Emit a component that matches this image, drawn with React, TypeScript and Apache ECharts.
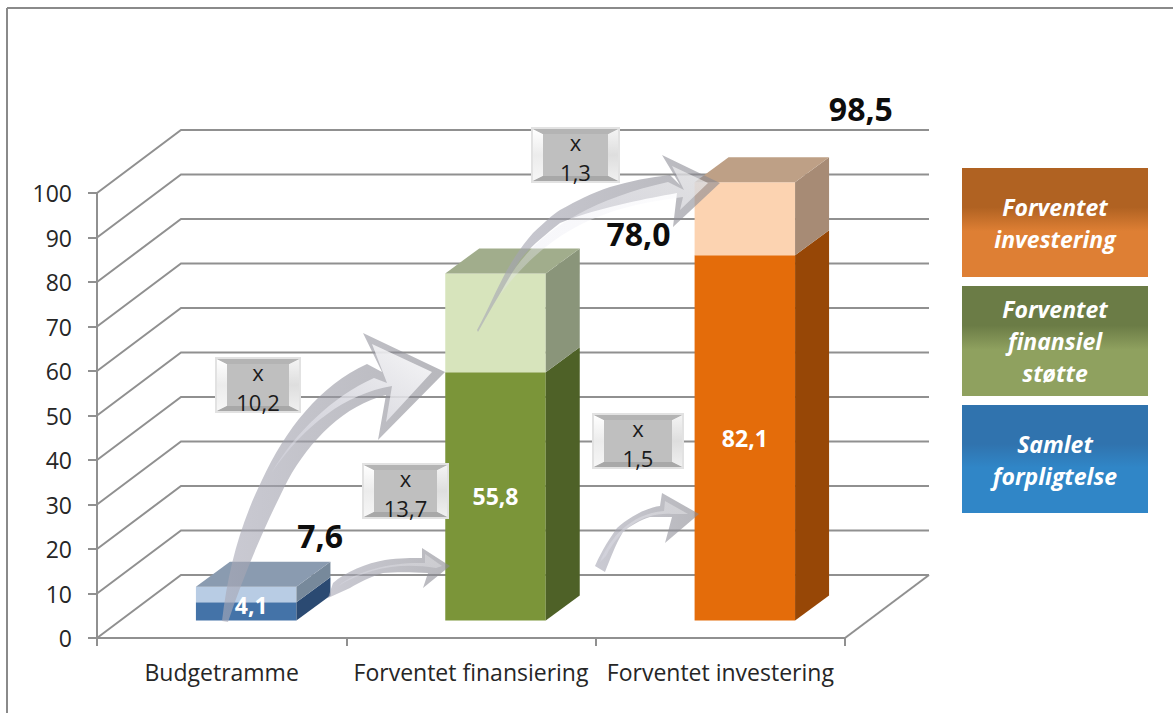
import React, { useEffect, useRef } from "react";
import * as echarts from "echarts";

// Category axis and the two stacked levels of each column
const categories = ["Budgetramme", "Forventet finansiering", "Forventet investering"];
const lowerValues = [4.1, 55.8, 82.1];
const totalValues = [7.6, 78.0, 98.5];
const yTicks = [0, 10, 20, 30, 40, 50, 60, 70, 80, 90, 100];

// Multipliers shown between the columns
const multiplierLabels = ["10,2", "13,7", "1,3", "1,5"];

// Legend panels
const legendLabels = ["Forventet\ninvestering", "Forventet\nfinansiel\nstøtte", "Samlet\nforpligtelse"];

const FONT = '"Open Sans", sans-serif';
const GRID_COLOR = "#909090";
const WALL = { dx: 84, dy: -63 };
const BAR = { shiftX: 24.5, shiftY: -17.5, depthX: 34, depthY: -25, ratio: 0.403 };

const palette = [
  { front: "#4473a8", side: "#2b4a72", upFront: "#b8cce4", upSide: "#77899b", top: "#8a9bb0" },
  { front: "#7b9539", side: "#4e6127", upFront: "#d7e4bc", upSide: "#8a957a", top: "#a1ad8c" },
  { front: "#e46c0a", side: "#974706", upFront: "#fcd3b1", upSide: "#a78b75", top: "#bea086" },
];

// Hand-placed labels are offset from the column they describe
const innerLabelShift = [
  [5, -6],
  [0, 0],
  [0, 0],
];
const totalLabelShift = [
  [74, -51],
  [143, -40],
  [116, -74],
];

const fmt = (v: number) => v.toFixed(1).replace(".", ",");

// Curved callout arrows: outer silhouette and the lighter bevelled interior
const arrowPaths: Record<string, [string, string, number]> = {
  a: [
    "M222,621 C228,570 240,525 262,480 C285,430 320,385 367,364 L382,372 L363,333 L445,372 L378,440 L386,395 C345,405 310,440 288,480 C270,515 245,570 228,622 Z",
    "M272,472 C296,432 332,397 374,378 L387,383 L372,344 L432,372 L386,422 L392,386 C345,394 305,425 272,472 Z",
    0.9,
  ],
  b: [
    "M328,598 L333,583 C345,572 367,563 385,560 C400,558 412,558 422,558 L422,548 L450,566 L423,588 L428,573 C410,572 395,572 383,573 C370,577 360,582 350,588 Z",
    "M338,586 C358,570 392,562 425,563 L425,554 L442,566 L436,568 C400,562 368,568 338,586 Z",
    0.3,
  ],
  c: [
    "M595,566 C603,548 610,538 617,528 C628,518 645,508 660,506 L662,493 L699,514 L665,543 L672,517 C665,517 657,517 650,517 C640,520 630,526 623,532 C615,545 610,560 605,572 Z",
    "M600,562 C610,538 630,514 664,511 L665,501 L688,514 L672,514 C645,512 622,526 606,556 Z",
    0.35,
  ],
  d: [
    "M477,330 C488,310 497,288 507,270 C515,256 524,243 533,233 C545,222 552,215 560,210 C578,200 592,193 610,187 C630,181 650,177 670,175 L680,185 L662,155 L720,183 L673,227 L677,193 C660,196 645,199 627,203 C605,208 582,214 560,223 C545,235 530,247 520,260 C505,285 490,310 478,332 Z",
    "M500,295 C520,250 565,205 668,182 L684,190 L672,166 L708,183 L680,210 L683,197 C620,205 555,220 500,295 Z",
    0.6,
  ],
};
Object.entries(arrowPaths).forEach(([key, [outer, inner]]) => {
  echarts.graphic.registerShape("arrowOuter" + key, echarts.graphic.extendPath(outer, {}) as any);
  echarts.graphic.registerShape("arrowInner" + key, echarts.graphic.extendPath(inner, {}) as any);
});

const arrowGraphics = () =>
  Object.entries(arrowPaths).flatMap(([key, [, , glow]]) => [
    {
      type: "arrowOuter" + key,
      x: 0,
      y: 0,
      z: 20,
      silent: true,
      style: {
        fill: new echarts.graphic.LinearGradient(0, 0, 1, 0, [
          { offset: 0, color: "rgba(170,170,184,0.62)" },
          { offset: 1, color: "rgba(136,136,144,0.6)" },
        ]),
      },
    },
    {
      type: "arrowInner" + key,
      x: 0,
      y: 0,
      z: 21,
      silent: true,
      style: {
        fill: new echarts.graphic.LinearGradient(0, 1, 1, 0, [
          { offset: 0, color: "rgba(226,226,238,0.3)" },
          { offset: 1, color: `rgba(255,255,255,${glow})` },
        ]),
      },
    },
  ]);

// Bevelled grey plate holding a multiplier
const plate = (x: number, y: number, w: number, h: number, value: string) => ({
  type: "group",
  x,
  y,
  z: 30,
  silent: true,
  children: [
    { type: "rect", z: 30, shape: { x: 0, y: 0, width: w, height: h }, style: { fill: "#e2e2e2" } },
    { type: "rect", z: 31, shape: { x: 2, y: 2, width: w - 4, height: h - 4 }, style: { fill: "#bfbfbf" } },
    {
      type: "polygon",
      z: 32,
      shape: { points: [[2, 2], [12, 7], [12, h - 7], [2, h - 2]] },
      style: {
        fill: new echarts.graphic.LinearGradient(0, 0, 0, 1, [
          { offset: 0, color: "#ffffff" },
          { offset: 0.5, color: "#ececec" },
          { offset: 1, color: "#f6f6f6" },
        ]),
      },
    },
    {
      type: "polygon",
      z: 32,
      shape: { points: [[w - 2, 2], [w - 12, 7], [w - 12, h - 7], [w - 2, h - 2]] },
      style: {
        fill: new echarts.graphic.LinearGradient(0, 0, 0, 1, [
          { offset: 0, color: "#f4f4f4" },
          { offset: 0.5, color: "#dedede" },
          { offset: 1, color: "#f0f0f0" },
        ]),
      },
    },
    { type: "polygon", z: 32, shape: { points: [[2, 2], [w - 2, 2], [w - 12, 7], [12, 7]] }, style: { fill: "#b4b4b4" } },
    { type: "polygon", z: 32, shape: { points: [[2, h - 2], [w - 2, h - 2], [w - 12, h - 7], [12, h - 7]] }, style: { fill: "#a8a8a8" } },
    { type: "text", z: 33, x: w / 2, y: 15, style: { text: "x", font: `22px ${FONT}`, fill: "#1a1a1a", textAlign: "center", textVerticalAlign: "middle" } },
    { type: "text", z: 33, x: w / 2, y: 45, style: { text: value, font: `22px ${FONT}`, fill: "#1a1a1a", textAlign: "center", textVerticalAlign: "middle" } },
  ],
});

// Gradient panel with italic caption
const panel = (y: number, h: number, text: string, stops: string[], textY: number) => ({
  type: "group",
  x: 962,
  y,
  z: 30,
  silent: true,
  children: [
    {
      type: "rect",
      z: 30,
      shape: { x: 0, y: 0, width: 186, height: h },
      style: {
        fill: new echarts.graphic.LinearGradient(0, 0, 0, 1, [
          { offset: 0, color: stops[0] },
          { offset: 0.36, color: stops[0] },
          { offset: 0.58, color: stops[1] },
          { offset: 1, color: stops[1] },
        ]),
      },
    },
    {
      type: "text",
      z: 31,
      x: 93,
      y: textY,
      style: {
        text,
        font: `italic bold 23px ${FONT}`,
        lineHeight: 32,
        fill: "#ffffff",
        textAlign: "center",
        textVerticalAlign: "middle",
      },
    },
  ],
});

const option: any = {
  animation: false,
  backgroundColor: "#ffffff",
  grid: { left: 97, right: 328, top: 193, bottom: 75 },
  xAxis: {
    type: "category",
    data: categories,
    axisLine: { lineStyle: { color: GRID_COLOR, width: 2 } },
    axisTick: { show: true, length: 8, lineStyle: { color: GRID_COLOR, width: 2 } },
    axisLabel: { color: "#262626", fontFamily: FONT, fontSize: 23, margin: 22, interval: 0 },
    splitLine: { show: false },
  },
  yAxis: {
    type: "value",
    min: 0,
    max: 100,
    interval: 10,
    axisLine: { show: true, lineStyle: { color: GRID_COLOR, width: 2 } },
    axisTick: { show: true, length: 9, lineStyle: { color: GRID_COLOR, width: 2 } },
    axisLabel: { color: "#262626", fontFamily: FONT, fontSize: 23, margin: 25 },
    splitLine: { show: false },
  },
  graphic: [
    // Outer frame along the left and top edges
    { type: "line", z: 1, silent: true, shape: { x1: 7, y1: 8, x2: 7, y2: 713 }, style: { stroke: "#8a8a8a", lineWidth: 2 } },
    { type: "line", z: 1, silent: true, shape: { x1: 7, y1: 8, x2: 1173, y2: 8 }, style: { stroke: "#8a8a8a", lineWidth: 2 } },
    ...arrowGraphics(),
    plate(215, 357, 86, 56, multiplierLabels[0]),
    plate(362, 463, 87, 56, multiplierLabels[1]),
    plate(531, 127, 89, 56, multiplierLabels[2]),
    plate(592, 413, 92, 56, multiplierLabels[3]),
    panel(168, 109, legendLabels[0], ["#b06222", "#de7f34"], 55),
    panel(286, 110, legendLabels[1], ["#6b7c46", "#8fa15f"], 55),
    panel(405, 108, legendLabels[2], ["#3073ae", "#3086c7"], 55),
  ],
  series: [
    {
      // Side walls and back wall gridlines
      type: "custom",
      z: 1,
      silent: true,
      data: yTicks.map((v) => [0, v]),
      renderItem: (params: any, api: any) => {
        const cs = params.coordSys;
        const y = api.coord([0, api.value(1)])[1];
        const stroke = { stroke: GRID_COLOR, lineWidth: 2, fill: "none" };
        const children: any[] = [
          {
            type: "polyline",
            shape: {
              points: [
                [cs.x, y],
                [cs.x + WALL.dx, y + WALL.dy],
                [cs.x + cs.width + WALL.dx, y + WALL.dy],
              ],
            },
            style: stroke,
          },
        ];
        if (api.value(1) === 0) {
          children.push({
            type: "line",
            shape: { x1: cs.x + cs.width, y1: y, x2: cs.x + cs.width + WALL.dx, y2: y + WALL.dy },
            style: stroke,
          });
        }
        return { type: "group", children };
      },
    },
    {
      // Columns: a solid lower level and a pale upper level, each with side and top faces
      type: "custom",
      z: 5,
      silent: true,
      data: categories.map((_, i) => [i, lowerValues[i], totalValues[i]]),
      renderItem: (_params: any, api: any) => {
        const i = api.value(0);
        const colors = palette[i];
        const [cx, y0] = api.coord([i, 0]);
        const width = api.size([1, 0])[0] * BAR.ratio;
        const left = cx + BAR.shiftX - width / 2;
        const right = left + width;
        const base = y0 + BAR.shiftY;
        const lift = (v: number) => api.coord([i, v])[1] + BAR.shiftY;
        const yLow = lift(api.value(1));
        const yTop = lift(api.value(2));
        const { depthX: dx, depthY: dy } = BAR;
        const poly = (points: number[][], fill: string) => ({ type: "polygon", shape: { points }, style: { fill } });
        return {
          type: "group",
          children: [
            poly([[left, base], [right, base], [right, yLow], [left, yLow]], colors.front),
            poly([[right, base], [right + dx, base + dy], [right + dx, yLow + dy], [right, yLow]], colors.side),
            poly([[left, yLow], [right, yLow], [right, yTop], [left, yTop]], colors.upFront),
            poly([[right, yLow], [right + dx, yLow + dy], [right + dx, yTop + dy], [right, yTop]], colors.upSide),
            poly([[left, yTop], [right, yTop], [right + dx, yTop + dy], [left + dx, yTop + dy]], colors.top),
          ],
        };
      },
    },
    {
      // Value labels: level value on the column, total value beside it
      type: "custom",
      z: 40,
      silent: true,
      data: categories.map((_, i) => [i, lowerValues[i], totalValues[i]]),
      renderItem: (_params: any, api: any) => {
        const i = api.value(0);
        const [cx, y0] = api.coord([i, 0]);
        const lift = (v: number) => api.coord([i, v])[1] + BAR.shiftY;
        const base = y0 + BAR.shiftY;
        const low = api.value(1);
        const total = api.value(2);
        return {
          type: "group",
          children: [
            {
              type: "text",
              x: cx + BAR.shiftX + innerLabelShift[i][0],
              y: (base + lift(low)) / 2 + innerLabelShift[i][1],
              style: {
                text: fmt(low),
                font: `bold 23px ${FONT}`,
                fill: "#ffffff",
                textAlign: "center",
                textVerticalAlign: "middle",
              },
            },
            {
              type: "text",
              x: cx + BAR.shiftX + totalLabelShift[i][0],
              y: lift(total) + totalLabelShift[i][1],
              style: {
                text: fmt(total),
                font: `bold 32px ${FONT}`,
                fill: "#0d0d0d",
                textAlign: "center",
                textVerticalAlign: "middle",
              },
            },
          ],
        };
      },
    },
  ],
};

export default function App() {
  const ref = useRef<HTMLDivElement>(null);
  useEffect(() => {
    const chart = echarts.init(ref.current!, undefined, { renderer: "svg" });
    chart.setOption(option);
    return () => chart.dispose();
  }, []);
  return <div ref={ref} style={{ position: "fixed", left: 0, top: 0, width: 1173, height: 713 }} />;
}
